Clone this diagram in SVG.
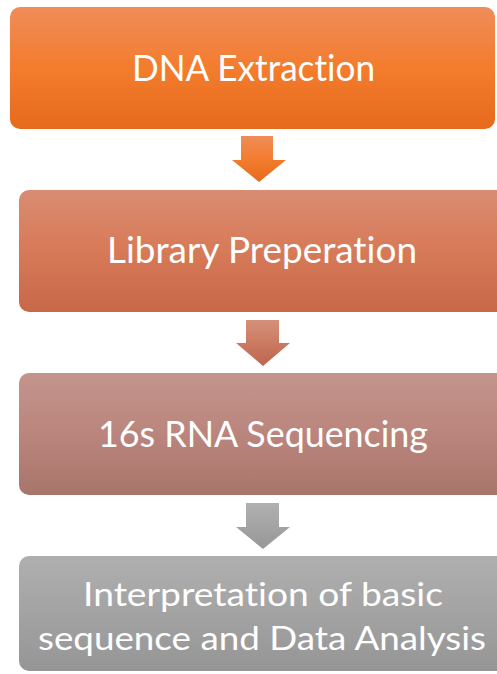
<svg xmlns="http://www.w3.org/2000/svg" width="497" height="674" viewBox="0 0 497 674">
<defs>
<linearGradient id="g1" x1="0" y1="0" x2="0" y2="1"><stop offset="0" stop-color="#F08C5A"/><stop offset="0.5" stop-color="#F37C2D"/><stop offset="1" stop-color="#E66A1C"/></linearGradient>
<linearGradient id="g2" x1="0" y1="0" x2="0" y2="1"><stop offset="0" stop-color="#D98C72"/><stop offset="0.5" stop-color="#D77A58"/><stop offset="1" stop-color="#C76848"/></linearGradient>
<linearGradient id="g3" x1="0" y1="0" x2="0" y2="1"><stop offset="0" stop-color="#C3958D"/><stop offset="0.5" stop-color="#BA857C"/><stop offset="1" stop-color="#A8756B"/></linearGradient>
<linearGradient id="g4" x1="0" y1="0" x2="0" y2="1"><stop offset="0" stop-color="#AFAFAF"/><stop offset="0.5" stop-color="#A3A3A3"/><stop offset="1" stop-color="#959595"/></linearGradient>
<linearGradient id="a1" x1="0" y1="0" x2="0" y2="1"><stop offset="0" stop-color="#F08C5A"/><stop offset="0.5" stop-color="#F37C2D"/><stop offset="1" stop-color="#E66A1C"/></linearGradient>
<linearGradient id="a2" x1="0" y1="0" x2="0" y2="1"><stop offset="0" stop-color="#D4907A"/><stop offset="0.5" stop-color="#CC7A62"/><stop offset="1" stop-color="#BC6550"/></linearGradient>
<linearGradient id="a3" x1="0" y1="0" x2="0" y2="1"><stop offset="0" stop-color="#B0B0B0"/><stop offset="1" stop-color="#979797"/></linearGradient>
</defs>
<style>
.lbl{font-family:"Lato","Liberation Sans",sans-serif;fill:#FFFFFF;text-anchor:middle;font-variant-ligatures:none;font-feature-settings:"liga" 0;}
.big{font-size:36px;}
.small{font-size:32px;}
</style>
<g id="connectors">
<polygon points="241,136 273,136 273,160 286,160 259,182 232,160 241,160" fill="url(#a1)"/>
<polygon points="246,320 279,320 279,343 290,343 263,366 236,343 246,343" fill="url(#a2)"/>
<polygon points="246,503 279,503 279,527 290,527 263,549 236,527 246,527" fill="url(#a3)"/>
</g>
<g id="node1">
<rect x="10" y="7" width="485" height="122" rx="10" fill="url(#g1)"/>
<text class="lbl big" x="253.5" y="81" textLength="243" lengthAdjust="spacingAndGlyphs">DNA Extraction</text>
</g>
<g id="node2">
<rect x="19" y="190" width="495" height="122" rx="10" fill="url(#g2)"/>
<text class="lbl big" x="262" y="263" textLength="310" lengthAdjust="spacingAndGlyphs">Library Preperation</text>
</g>
<g id="node3">
<rect x="19" y="373" width="495" height="122" rx="10" fill="url(#g3)"/>
<text class="lbl big" x="263" y="447" textLength="330" lengthAdjust="spacingAndGlyphs">16s RNA Sequencing</text>
</g>
<g id="node4">
<rect x="19" y="556" width="495" height="115" rx="10" fill="url(#g4)"/>
<text class="lbl small" x="263" y="606" textLength="360" lengthAdjust="spacingAndGlyphs">Interpretation of basic</text>
<text class="lbl small" x="262" y="650" textLength="448" lengthAdjust="spacingAndGlyphs">sequence and Data Analysis</text>
</g>
</svg>
